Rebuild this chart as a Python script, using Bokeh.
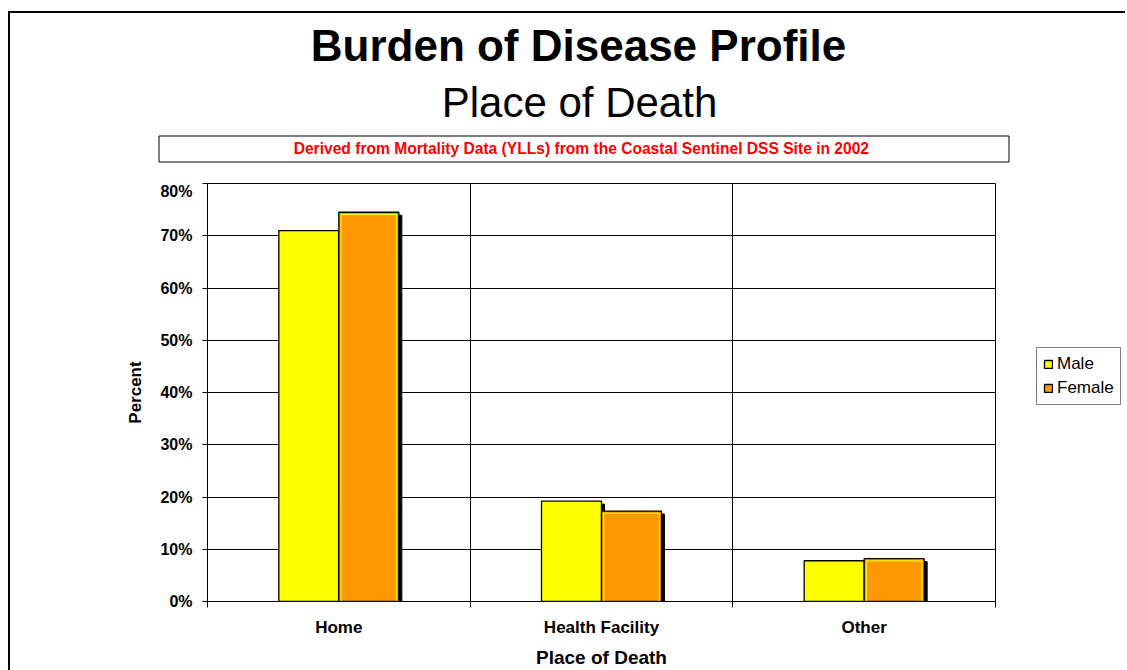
from bokeh.plotting import figure
from bokeh.models import (Range1d, FixedTicker, PrintfTickFormatter, Legend, LegendItem)
from bokeh.layouts import column, row
from bokeh.core.properties import value
from bokeh.embed import file_html
from bokeh.resources import INLINE

# ---- data ----
categories = ["Home", "Health Facility", "Other"]
male = [71.0, 19.2, 7.8]
female = [74.5, 17.3, 8.2]
y_ticks = [0, 10, 20, 30, 40, 50, 60, 70, 80]
series_names = ["Male", "Female"]
series_colors = ["#FFFF00", "#FF9900"]
title_text = "Burden of Disease Profile"
subtitle_text = "Place of Death"
source_text = "Derived from Mortality Data (YLLs)  from the Coastal Sentinel DSS Site in 2002"

FONT = "Liberation Sans"
W, H = 1115, 657
HEAD = 169                       # header height (titles)
MAIN_W = 986                     # chart figure width
FL, FR = 197, 985                # frame left / right (px)
FRAME_H = 418
MAIN_H = H - HEAD

# ---------------- header (titles + source box) ----------------
head = figure(width=W, height=HEAD, x_range=Range1d(0, W), y_range=Range1d(HEAD, 0),
              output_backend="svg", toolbar_location=None, title=None,
              x_axis_type=None, y_axis_type=None,
              min_border=0, min_border_left=0, min_border_right=0,
              min_border_top=0, min_border_bottom=0)
head.outline_line_color = None
head.grid.visible = False
head.text(x=[568], y=[32], text=[title_text], text_align="center", text_baseline="alphabetic",
          text_font=value(FONT), text_font_style="bold", text_font_size="44px", text_color="black")
head.text(x=[569], y=[89], text=[subtitle_text], text_align="center", text_baseline="alphabetic",
          text_font=value(FONT), text_font_style="normal", text_font_size="42px", text_color="black")
head.quad(left=[148.5], right=[998.5], top=[122.5], bottom=[148.5], fill_color="white",
          line_color="black", line_width=1)
head.text(x=[573], y=[135], text=[source_text], text_align="center", text_baseline="alphabetic",
          text_font=value(FONT), text_font_style="bold", text_font_size="15.6px", text_color="#FF0000")

# ---------------- main chart ----------------
p = figure(width=MAIN_W, height=MAIN_H, x_range=Range1d(0, len(categories)), y_range=Range1d(0, 80),
           output_backend="svg", toolbar_location=None, title=None,
           min_border_left=FL, min_border_right=MAIN_W - FR, min_border_top=1,
           min_border_bottom=MAIN_H - 1 - FRAME_H)
p.outline_line_color = "black"
p.outline_line_width = 1
p.background_fill_color = "white"

fw = FR - FL
xc = [i + 0.5 for i in range(len(categories))]
bw = 60 / (fw / len(categories))
off = bw / 2
dx = 3 * len(categories) / fw
dy = 3 * 80 / FRAME_H
xm = [c - off for c in xc]
xf = [c + off for c in xc]

# drop shadows
p.vbar(x=[x + dx for x in xm], top=[v - dy for v in male], bottom=-5, width=bw,
       fill_color="black", line_color="black")
p.vbar(x=[x + dx for x in xf], top=[v - dy for v in female], bottom=-5, width=bw,
       fill_color="black", line_color="black")

p.vbar(x=xm, top=male, bottom=-5, width=bw, fill_color=series_colors[0],
       line_color="black", line_width=1.3)
p.vbar(x=xf, top=female, bottom=-5, width=bw, fill_color=series_colors[1],
       line_color="black", line_width=1.3)
inset_x = 2.2 * len(categories) / fw
inset_y = 2.2 * 80 / FRAME_H
p.vbar(x=xf, top=[v - inset_y for v in female], bottom=-5, width=bw - 2 * inset_x,
       fill_color=None, line_color=series_colors[0], line_width=1)

ya = p.yaxis[0]
ya.ticker = FixedTicker(ticks=y_ticks)
ya.formatter = PrintfTickFormatter(format="%d%%")
ya.major_tick_in = 0
ya.major_tick_out = 5
ya.minor_tick_out = 0
ya.axis_line_color = "black"
ya.major_tick_line_color = "black"
ya.major_label_text_font = FONT
ya.major_label_text_font_style = "bold"
ya.major_label_text_font_size = "16px"
ya.major_label_text_color = "black"
ya.major_label_standoff = 10
ya.axis_label = "Percent"
ya.axis_label_text_font = FONT
ya.axis_label_text_font_style = "bold"
ya.axis_label_text_font_size = "17px"
ya.axis_label_text_color = "black"
ya.axis_label_standoff = 12

xa = p.xaxis[0]
xa.ticker = FixedTicker(ticks=xc, minor_ticks=list(range(len(categories) + 1)))
xa.major_label_overrides = {c: n for c, n in zip(xc, categories)}
xa.major_tick_in = 0
xa.major_tick_out = 0
xa.minor_tick_in = 0
xa.minor_tick_out = 6
xa.minor_tick_line_color = "black"
xa.axis_line_color = "black"
xa.major_label_text_font = FONT
xa.major_label_text_font_style = "bold"
xa.major_label_text_font_size = "17px"
xa.major_label_text_color = "black"
xa.major_label_standoff = 10
xa.axis_label = "Place of Death"
xa.axis_label_text_font = FONT
xa.axis_label_text_font_style = "bold"
xa.axis_label_text_font_size = "19px"
xa.axis_label_text_color = "black"
xa.axis_label_standoff = 7

p.xgrid[0].ticker = FixedTicker(ticks=list(range(1, len(categories))))
p.xgrid[0].grid_line_color = "black"
p.ygrid[0].ticker = FixedTicker(ticks=y_ticks)
p.ygrid[0].grid_line_color = "black"

# ---------------- legend panel ----------------
LEG_W = W - MAIN_W
leg = figure(width=LEG_W, height=MAIN_H, x_range=Range1d(0, 1), y_range=Range1d(0, 1),
             output_backend="svg", toolbar_location=None, title=None,
             x_axis_type=None, y_axis_type=None,
             min_border=0, min_border_left=0, min_border_right=0,
             min_border_top=0, min_border_bottom=0)
leg.outline_line_color = None
leg.grid.visible = False
# off-range proxies so the legend can draw swatches in the series' styles
lr = [leg.vbar(x=[10], top=[10], bottom=[9], width=0.1, fill_color=c, line_color="black",
               line_width=1.3) for c in series_colors]
legend = Legend(items=[LegendItem(label=n, renderers=[r]) for n, r in zip(series_names, lr)],
                location=(40, 196), border_line_color="black", border_line_width=1,
                label_text_font=FONT, label_text_font_size="17px", label_text_color="black",
                glyph_width=10, glyph_height=10, label_standoff=4, spacing=4,
                padding=6, margin=0, label_height=20, background_fill_color="white")
leg.add_layout(legend, "center")

layout = column(head, row(p, leg, spacing=0), spacing=0)
layout.styles = {"border-left": "2px solid black", "border-top": "2px solid black",
                 "margin-top": "11px", "margin-left": "8px"}

open("out.html", "w").write(file_html(layout, INLINE))
